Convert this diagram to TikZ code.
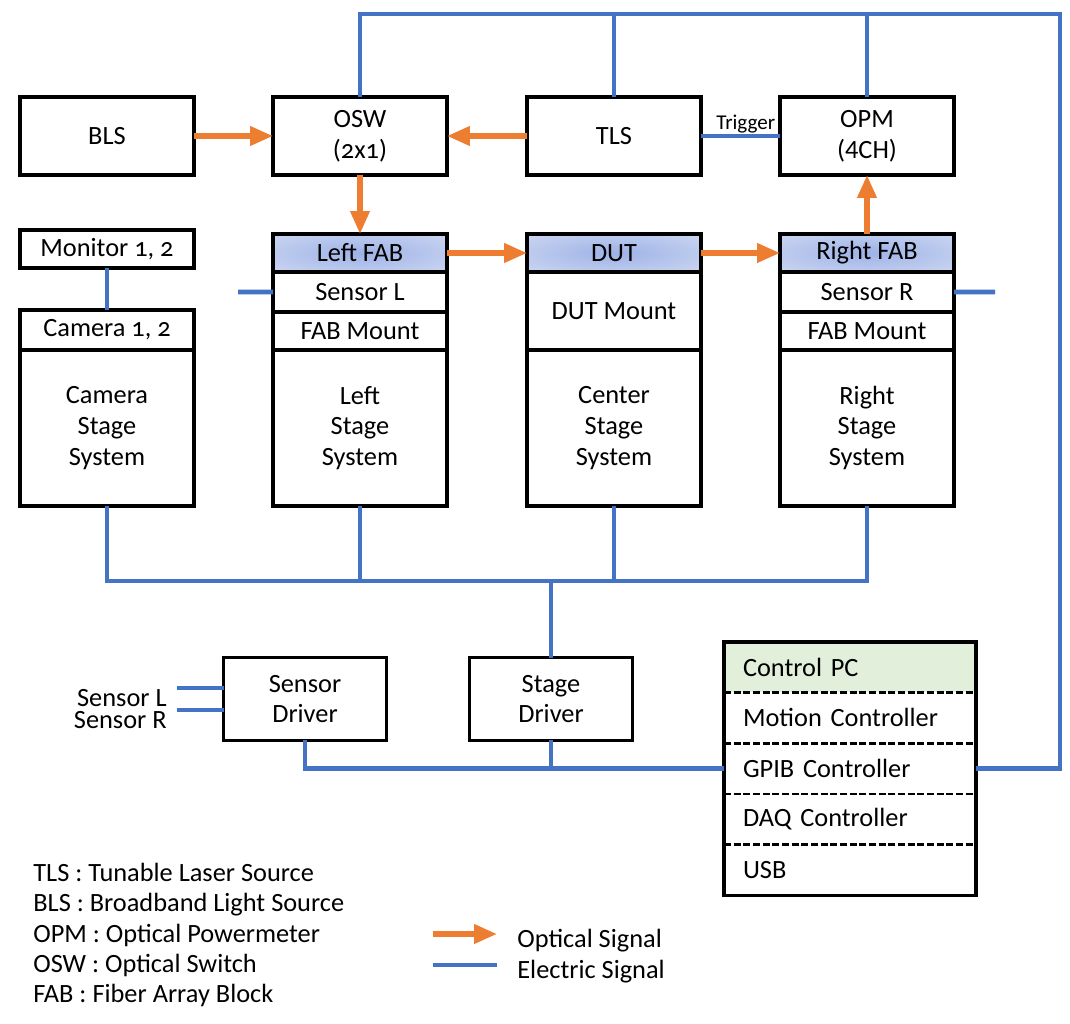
\documentclass[tikz,border=0pt]{standalone}
\usepackage{fontspec}
\setmainfont{Carlito}
\usetikzlibrary{positioning,arrows.meta}

\definecolor{optorange}{HTML}{ED7D31}
\definecolor{elecblue}{HTML}{4472C4}
\definecolor{pcgreen}{HTML}{E2EFDA}
\definecolor{fabin}{HTML}{9DB2E6}
\definecolor{fabout}{HTML}{E6EAF8}

\pgfdeclareradialshading{fabshade}{\pgfpoint{0bp}{0bp}}{color(0bp)=(fabin); color(55bp)=(fabout); color(80bp)=(fabout)}

\newcommand{\osnum}[1]{{\addfontfeatures{Numbers=OldStyle}#1}}

\tikzset{
  blk/.style={draw, line width=2.2pt, inner sep=0pt, outer sep=0pt, minimum width=3.48cm,
    align=center, font=\fontsize{15}{17.5}\selectfont},
  fab/.style={blk, shading=fabshade},
  drv/.style={blk, minimum width=3.26cm, minimum height=1.66cm},
  pcrow/.style={inner xsep=0.38cm, inner ysep=0pt, outer sep=0pt, text width=4.28cm,
    minimum height=1.016cm, align=left, font=\fontsize{15}{17.5}\selectfont},
  elec/.style={draw=elecblue, line width=2.6pt},
  opt/.style={draw=optorange, line width=3pt, -{Triangle[width=10.5pt,length=13pt]}},
  txt/.style={inner sep=0pt, font=\fontsize{15}{17.5}\selectfont},
}

\begin{document}
\begin{tikzpicture}[x=0.02cm, y=-0.02cm]
    \useasboundingbox (0,0) rectangle (1070,1023);

    % top row
    \node[blk, minimum height=1.56cm] (bls) at (107,136) {BLS};
    \node[blk, minimum height=1.56cm] (osw) at (360,136) {OSW\\\osnum{(2x1)}};
    \node[blk, minimum height=1.56cm] (tls) at (614,136) {TLS};
    \node[blk, minimum height=1.56cm] (opm) at (867,136) {OPM\\(4CH)};

    % camera
    \node[blk, minimum height=0.76cm] (mon) at (107,249) {Monitor \osnum{1, 2}};
    \node[blk, minimum height=0.8cm] (cam) at (107,330) {Camera \osnum{1, 2}};
    \node[blk, minimum height=3.12cm, below=0pt of cam] (camsys) {Camera\\Stage\\System};

    % left stage
    \node[fab, minimum height=0.76cm] (lfab) at (360,253) {Left FAB};
    \node[blk, minimum height=0.8cm, below=0pt of lfab] (lsen) {Sensor L};
    \node[blk, minimum height=0.76cm, below=0pt of lsen] (lmnt) {FAB Mount};
    \node[blk, minimum height=3.12cm, below=0pt of lmnt] (lsys) {Left\\Stage\\System};

    % center stage
    \node[fab, minimum height=0.76cm] (dut) at (614,253) {DUT};
    \node[blk, minimum height=1.56cm, below=0pt of dut] (dmnt) {DUT Mount};
    \node[blk, minimum height=3.12cm, below=0pt of dmnt] (csys) {Center\\Stage\\System};

    % right stage
    \node[fab, minimum height=0.76cm] (rfab) at (867,253) {Right FAB};
    \node[blk, minimum height=0.8cm, below=0pt of rfab] (rsen) {Sensor R};
    \node[blk, minimum height=0.76cm, below=0pt of rsen] (rmnt) {FAB Mount};
    \node[blk, minimum height=3.12cm, below=0pt of rmnt] (rsys) {Right\\Stage\\System};

    % drivers
    \node[drv] (sendrv) at (305,699) {Sensor\\Driver};
    \node[drv] (stgdrv) at (551,699) {Stage\\Driver};

    % control pc
    \node[pcrow, fill=pcgreen] (pc1) at (850,667) {Control PC};
    \node[pcrow, below=0pt of pc1] (pc2) {Motion Controller};
    \node[pcrow, below=0pt of pc2] (pc3) {GPIB Controller};
    \node[pcrow, below=0pt of pc3] (pc4) {DAQ Controller};
    \node[pcrow, below=0pt of pc4] (pc5) {USB};
    \foreach \r in {pc1,pc2,pc3,pc4}
        \draw[line width=1.5pt, dash pattern=on 4pt off 1.5pt] (\r.south west) -- (\r.south east);
    \draw[line width=2.2pt] (pc1.north west) rectangle (pc5.south east);

    % electric
    \coordinate (bustop) at (1060,14);
    \coordinate (busbot) at (551,581);
    \coordinate (lstub) at (238,292);
    \coordinate (rstub) at (995,292);
    \coordinate (inl) at (177,688);
    \coordinate (inr) at (177,710);
    \draw[elec] (osw.north) |- (bustop) |- (pc3.east);
    \draw[elec] (tls.north) -- (tls.north |- bustop);
    \draw[elec] (opm.north) -- (opm.north |- bustop);
    \draw[elec] (tls.east) -- node[above, inner sep=0.3pt, xshift=3pt, font=\fontsize{12}{14}\selectfont] {Trigger} (opm.west);
    \draw[elec] (mon.south) -- (cam.north);
    \draw[elec] (lsen.west) -- (lstub);
    \draw[elec] (rsen.east) -- (rstub);
    \draw[elec] (camsys.south) |- (rsys.south |- busbot) -- (rsys.south);
    \draw[elec] (lsys.south) -- (lsys.south |- busbot);
    \draw[elec] (csys.south) -- (csys.south |- busbot);
    \draw[elec] (busbot) -- (stgdrv.north);
    \draw[elec] (sendrv.south) |- (pc3.west);
    \draw[elec] (stgdrv.south) -- (stgdrv.south |- pc3.west);
    \draw[elec] (inl) -- (inl -| sendrv.west);
    \draw[elec] (inr) -- (inr -| sendrv.west);
    \node[txt, anchor=east, align=right, font=\fontsize{15}{12.5}\selectfont] (sensin) at (167,709) {Sensor L\\Sensor R};

    % optical
    \draw[opt] (bls) -- (osw);
    \draw[opt] (tls) -- (osw);
    \draw[opt] (osw) -- (lfab);
    \draw[opt] (lfab) -- (dut);
    \draw[opt] (dut) -- (rfab);
    \draw[opt] (rfab) -- (opm);

    % legend
    \node[txt, anchor=west, align=left, font=\fontsize{15}{17.3}\selectfont] (abbr) at (33,935)
        {TLS : Tunable Laser Source\\BLS : Broadband Light Source\\OPM : Optical Powermeter\\OSW : Optical Switch\\FAB : Fiber Array Block};
    \coordinate (optl) at (433,934);
    \coordinate (optr) at (497,934);
    \coordinate (elel) at (433,965);
    \coordinate (eler) at (497,965);
    \draw[opt] (optl) -- (optr);
    \draw[elec] (elel) -- (eler);
    \node[txt, anchor=west] (optlbl) at (517,941) {Optical Signal};
    \node[txt, anchor=west] (elelbl) at (517,972) {Electric Signal};
\end{tikzpicture}
\end{document}
